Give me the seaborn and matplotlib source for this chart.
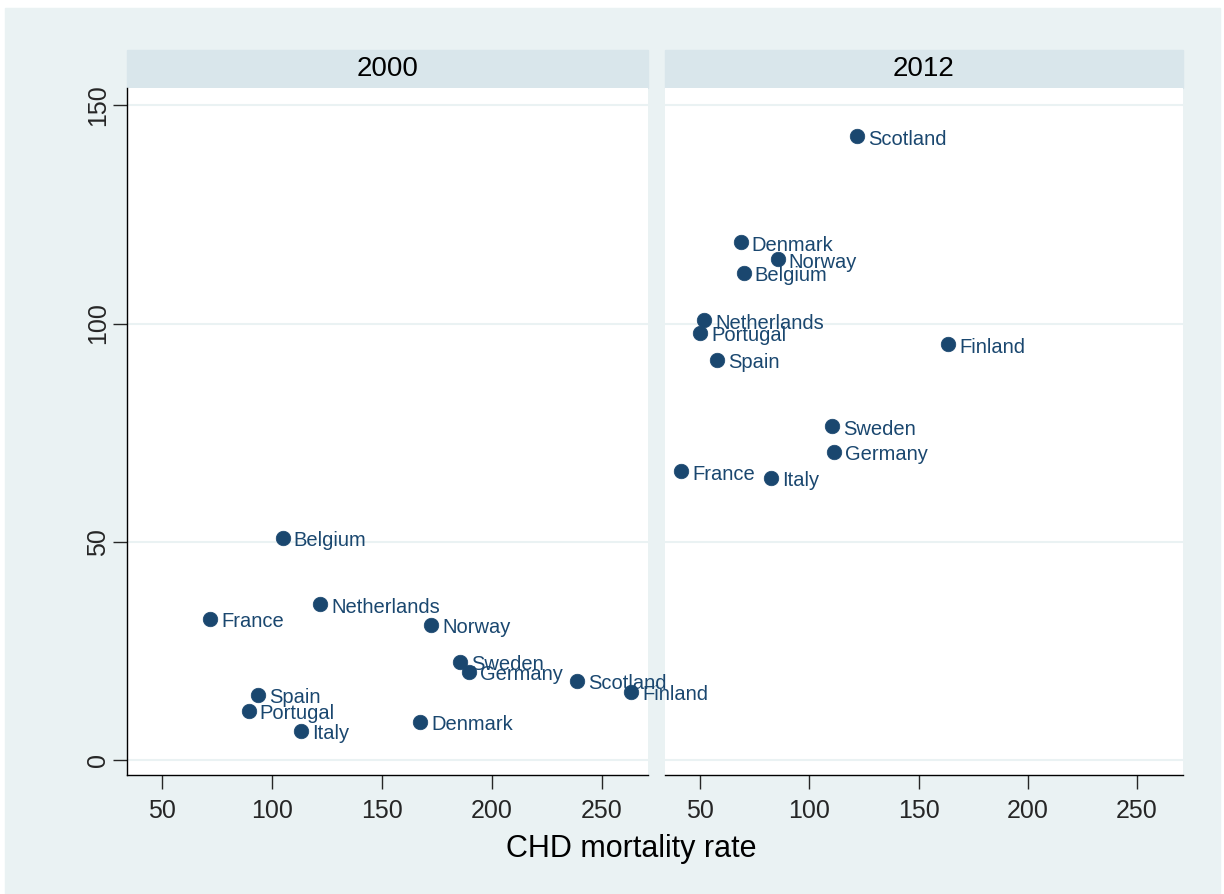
import numpy as np
import pandas as pd
import matplotlib
matplotlib.use("Agg")
import matplotlib.pyplot as plt
import seaborn as sns
from matplotlib.patches import Rectangle

# --- datos ---
paises = ["Belgium", "France", "Netherlands", "Norway", "Sweden", "Germany",
          "Scotland", "Finland", "Spain", "Portugal", "Denmark", "Italy"]
chd_2000 = [104.8, 71.9, 121.7, 172.4, 185.6, 189.7, 238.6, 263.2, 93.4, 89.3, 167.4, 113.0]
y_2000 = [50.9, 32.3, 35.6, 31.0, 22.5, 20.2, 18.1, 15.6, 14.9, 11.2, 8.7, 6.7]
chd_2012 = [70.0, 41.4, 51.8, 85.5, 110.5, 111.4, 121.8, 163.6, 57.7, 50.0, 68.6, 82.7]
y_2012 = [111.7, 66.1, 100.7, 114.7, 76.4, 70.6, 142.9, 95.2, 91.7, 97.9, 118.6, 64.7]
anios = ["2000", "2012"]
xticks = [50, 100, 150, 200, 250]
yticks = [0, 50, 100, 150]

df = pd.concat([
    pd.DataFrame({"pais": paises, "chd": chd_2000, "y": y_2000, "anio": "2000"}),
    pd.DataFrame({"pais": paises, "chd": chd_2012, "y": y_2012, "anio": "2012"}),
])

BG = "#EAF2F3"
STRIP = "#D9E6EB"
NAVY = "#1A476F"

sns.set_style("white")
plt.rcParams["font.family"] = ["Liberation Sans", "DejaVu Sans"]

W, H = 1224, 894
fig = plt.figure(figsize=(W / 100, H / 100), dpi=100)
fig.patches.append(Rectangle((5 / W, 0), (1220 - 5) / W, (H - 8) / H,
                             transform=fig.transFigure, color=BG, zorder=-10))

def fx(px):
    return px / W

def fy(py):
    return 1 - py / H

paneles = [(127, 648), (665, 1183)]
top, bottom = 88, 775
strip_top = 50

for i, (anio, (l, r)) in enumerate(zip(anios, paneles)):
    ax = fig.add_axes([fx(l), fy(bottom), fx(r - l), fy(top) - fy(bottom)])
    ax.set_zorder(2 - i)  # que las etiquetas del panel 1 queden encima del panel 2
    sub = df[df["anio"] == anio]
    for yt in yticks:
        ax.axhline(yt, color=BG, lw=1.5, zorder=0)
    sns.scatterplot(data=sub, x="chd", y="y", ax=ax, color=NAVY, s=110,
                    edgecolor=NAVY, linewidth=0.5, zorder=3)
    for _, fila in sub.iterrows():
        ax.annotate(fila["pais"], (fila["chd"], fila["y"]), xytext=(8, -2),
                    textcoords="offset points", ha="left", va="center",
                    fontsize=14.5, color=NAVY, annotation_clip=False)
    ax.set_xlim(34, 271)
    ax.set_ylim(-3.5, 154)
    ax.set_xticks(xticks)
    ax.set_yticks(yticks)
    ax.tick_params(axis="x", length=10, width=1, labelsize=18, pad=7, bottom=True)
    ax.set_xlabel("")
    ax.set_ylabel("")
    for s in ["top", "right"]:
        ax.spines[s].set_visible(False)
    ax.spines["bottom"].set_color("black")
    ax.spines["bottom"].set_linewidth(1)
    if i == 0:
        ax.spines["left"].set_color("black")
        ax.spines["left"].set_linewidth(1)
        ax.tick_params(axis="y", length=10, width=1, labelsize=18, pad=2, left=True)
        for lab in ax.get_yticklabels():
            lab.set_rotation(90)
            lab.set_va("center")
    else:
        ax.spines["left"].set_visible(False)
        ax.tick_params(axis="y", left=False, labelleft=False)
    # cabecera del panel
    fig.patches.append(Rectangle((fx(l), fy(top)), fx(r - l), fy(strip_top) - fy(top),
                                 transform=fig.transFigure, color=STRIP, zorder=-5))
    fig.text(fx((l + r) / 2), fy((strip_top + top) / 2), anio, ha="center",
             va="center", fontsize=20, color="black")

fig.text(fx(631), fy(849), "CHD mortality rate", ha="center", va="center",
         fontsize=22, color="black")

plt.savefig("out.png", dpi=100, facecolor="white")
plt.close()
